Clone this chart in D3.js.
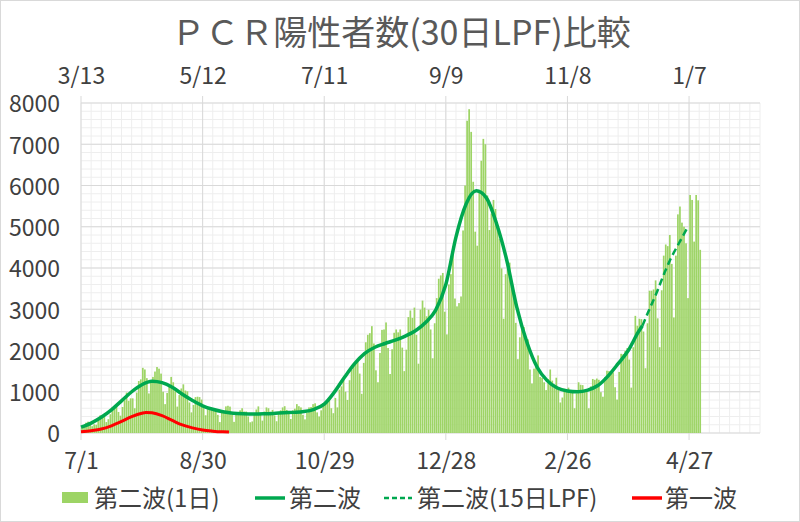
<!DOCTYPE html>
<html>
<head>
<meta charset="utf-8">
<script src="https://cdn.jsdelivr.net/npm/d3@7"></script>
<style>
  html, body { margin: 0; padding: 0; background: #fff; }
  svg { display: block; font-family: "Noto Sans CJK JP", "Noto Sans", sans-serif; }
</style>
</head>
<body>
<svg id="chart" width="800" height="522"></svg>
<script>
// ---------------- DATA ----------------
const titleText = "ＰＣＲ陽性者数(30日LPF)比較";
const bottomTickDays = [0, 60, 120, 180, 240, 300];
const bottomTickLabels = ["7/1", "8/30", "10/29", "12/28", "2/26", "4/27"];
const topTickLabels = ["3/13", "5/12", "7/11", "9/9", "11/8", "1/7"];
const yTicks = [0, 1000, 2000, 3000, 4000, 5000, 6000, 7000, 8000];
const legendLabels = ["第二波(1日)", "第二波", "第二波(15日LPF)", "第一波"];

// Second wave daily positives, day 0 = 7/1
const wave2Daily = [
  // Jul
  130,195,250,275,210,165,210,200,355,430,385,410,265,335,455,620,595,665,510,420,630,795,980,780,840,840,600,980,1260,1300,1580,
  // Aug
  1540,1330,960,1240,1360,1490,1600,1560,1440,1000,700,970,1180,1360,1230,1010,640,920,1080,1180,1030,1010,740,500,680,870,880,870,810,670,430,
  // Sep
  580,620,590,590,530,440,265,510,505,645,660,640,440,270,505,500,550,600,520,520,400,260,280,480,570,645,470,300,520,620,
  // Oct
  600,515,560,425,285,480,550,620,650,560,500,340,550,590,700,650,620,440,330,490,620,630,700,720,500,400,550,720,740,770,850,
  // Nov
  600,480,850,620,1050,1130,1330,1000,800,1280,1540,1660,1700,1730,1440,950,1700,2200,2380,2420,2590,2170,1520,1230,1940,2500,2510,2680,2060,1430,
  // Dec
  2030,2430,2510,2440,2510,2070,1500,2020,2810,2970,2790,3040,2380,1680,2990,3210,3040,2830,2990,2510,1810,2660,3270,3740,3820,3880,2940,2390,3600,3850,4520,
  // Jan
  3260,3070,3150,3310,4910,6000,7570,7850,7300,6090,4880,4540,5870,6600,7130,7000,5760,4920,5320,5650,5430,5040,4710,3990,2770,3850,3980,4130,3540,3340,2670,
  // Feb
  1790,2320,2630,2570,2290,2270,1540,1200,1560,1700,1880,1360,1340,1230,1040,1310,1540,1270,1170,1340,1050,740,860,1070,1060,1100,1000,980,
  // Mar
  600,960,1230,1170,1160,1030,1060,600,1130,1310,1290,1320,1290,990,880,1360,1510,1500,1460,1470,1110,810,1480,1920,1910,1990,2060,1780,1100,2080,2840,
  // Apr
  2600,2770,2760,2460,1570,2660,3450,3450,3480,3700,2780,2080,3460,4300,4570,4530,4800,4100,2800,4300,5300,5490,5100,5000,4600,3270,5770,5650,4640,5770,
  // May
  5640,4440
];

// Second wave 30-day LPF
const wave2LpfDays = [0,5,10,15,20,25,30,35,40,45,50,55,60,65,70,75,80,85,90,95,100,105,110,115,120,125,130,135,140,145,150,155,160,165,170,175,180,185,190,195,200,205,210,215,220,225,230,235,240,245,250,255,260,265,270,275,277];
const wave2Lpf = [140,240,380,560,780,1000,1170,1255,1220,1110,940,790,660,575,515,480,465,460,465,475,490,500,520,575,700,990,1350,1680,1930,2080,2170,2250,2350,2480,2680,2980,3600,4750,5550,5870,5700,5080,4200,3050,2200,1600,1270,1090,1020,1000,1040,1150,1380,1680,2000,2450,2600];

// Second wave 15-day LPF (dashed tail)
const wave2Lpf15Days = [277,280,284,288,291,295,299];
const wave2Lpf15 = [2600,2950,3400,3900,4230,4600,4960];

// First wave 30-day LPF, day 0 = 3/13 (top axis)
const wave1LpfDays = [0,5,10,15,20,25,30,32,35,40,45,50,55,60,65,70,73];
const wave1Lpf = [30,55,95,175,280,395,480,500,490,420,305,195,125,72,45,28,22];

// ---------------- CHART ----------------
const svg = d3.select("#chart");
const W = 800, H = 522;
const m = {left: 81, right: 40, top: 103, bottom: 89};
const x = d3.scaleLinear().domain([0, 335]).range([m.left, W - m.right]);
const y = d3.scaleLinear().domain([0, 8000]).range([H - m.bottom, m.top]);

const green = "#00a84f", barColor = "#9dd465", red = "#ff0000";
const textColor = "#404040";

svg.append("rect").attr("x", 0.5).attr("y", 0.5).attr("width", W - 1).attr("height", H - 1)
  .attr("fill", "#fff").attr("stroke", "#d9d9d9");

// title
svg.append("text").attr("x", 401).attr("y", 45).attr("text-anchor", "middle")
  .attr("font-size", 34).attr("fill", "#595959").text(titleText);

// grid
const g = svg.append("g");
const minorX = d3.range(0, 336, 5), minorY = d3.range(0, 8001, 200);
g.selectAll(".mx").data(minorX).join("line")
  .attr("x1", d => x(d)).attr("x2", d => x(d)).attr("y1", y(0)).attr("y2", y(8000))
  .attr("stroke", "#eeeeee").attr("stroke-width", 1);
g.selectAll(".my").data(minorY).join("line")
  .attr("x1", x(0)).attr("x2", x(335)).attr("y1", d => y(d)).attr("y2", d => y(d))
  .attr("stroke", "#eeeeee").attr("stroke-width", 1);
g.selectAll(".My").data(yTicks).join("line")
  .attr("x1", x(0)).attr("x2", x(335)).attr("y1", d => y(d)).attr("y2", d => y(d))
  .attr("stroke", "#d9d9d9").attr("stroke-width", 1);
g.selectAll(".Mx").data(bottomTickDays).join("line")
  .attr("x1", d => x(d)).attr("x2", d => x(d)).attr("y1", y(0) + 7).attr("y2", y(8000) - 7)
  .attr("stroke", "#d9d9d9").attr("stroke-width", 1);

// bars
const bw = (x(1) - x(0)) * 0.84;
svg.append("g").selectAll("rect").data(wave2Daily).join("rect")
  .attr("x", (d, i) => x(i + 0.5) - bw / 2)
  .attr("y", d => y(d))
  .attr("width", bw)
  .attr("height", d => y(0) - y(d))
  .attr("fill", barColor);

// lines
const line = d3.line().curve(d3.curveMonotoneX);
const pts = (days, vals) => days.map((d, i) => [x(d), y(vals[i])]);
svg.append("path").attr("d", line(pts(wave1LpfDays, wave1Lpf)))
  .attr("fill", "none").attr("stroke", red).attr("stroke-width", 3);
svg.append("path").attr("d", line(pts(wave2LpfDays, wave2Lpf)))
  .attr("fill", "none").attr("stroke", green).attr("stroke-width", 3.5);
svg.append("path").attr("d", line(pts(wave2Lpf15Days, wave2Lpf15)))
  .attr("fill", "none").attr("stroke", green).attr("stroke-width", 2.5).attr("stroke-dasharray", "7,4");

// axes
const fs = 23;
const bottomAxis = d3.axisBottom(x).tickValues(bottomTickDays).tickSize(0)
  .tickFormat((d, i) => bottomTickLabels[i]);
const ba = svg.append("g").attr("transform", `translate(0,${y(0)})`).call(bottomAxis);
ba.select(".domain").remove();
ba.selectAll("text").attr("font-size", fs).attr("fill", textColor)
  .attr("font-family", "Noto Sans CJK JP").attr("dy", null).attr("y", 36);

const topAxis = d3.axisTop(x).tickValues(bottomTickDays).tickSize(0)
  .tickFormat((d, i) => topTickLabels[i]);
const ta = svg.append("g").attr("transform", `translate(0,${y(8000)})`).call(topAxis);
ta.select(".domain").remove();
ta.selectAll("text").attr("font-size", fs).attr("fill", textColor)
  .attr("font-family", "Noto Sans CJK JP").attr("dy", null).attr("y", -19);

const leftAxis = d3.axisLeft(y).tickValues(yTicks).tickSize(0).tickFormat(d3.format("d"));
const la = svg.append("g").attr("transform", `translate(${m.left},0)`).call(leftAxis);
la.select(".domain").remove();
la.selectAll("text").attr("font-size", fs).attr("fill", textColor)
  .attr("font-family", "Noto Sans CJK JP").attr("x", -21).attr("dy", "0.38em");

// legend
const lg = svg.append("g").attr("font-size", 24).attr("fill", textColor);
const ly = 498;
lg.append("rect").attr("x", 62).attr("y", 492).attr("width", 26).attr("height", 11).attr("fill", barColor);
lg.append("text").attr("x", 94).attr("y", ly).attr("dy", "0.36em").text(legendLabels[0]);
lg.append("line").attr("x1", 255).attr("x2", 285).attr("y1", ly).attr("y2", ly)
  .attr("stroke", green).attr("stroke-width", 3.5);
lg.append("text").attr("x", 289).attr("y", ly).attr("dy", "0.36em").text(legendLabels[1]);
lg.append("line").attr("x1", 384).attr("x2", 412).attr("y1", ly).attr("y2", ly)
  .attr("stroke", green).attr("stroke-width", 2.5).attr("stroke-dasharray", "5,3");
lg.append("text").attr("x", 417).attr("y", ly).attr("dy", "0.36em").text(legendLabels[2]);
lg.append("line").attr("x1", 632).attr("x2", 662).attr("y1", ly).attr("y2", ly)
  .attr("stroke", red).attr("stroke-width", 3.5);
lg.append("text").attr("x", 665).attr("y", ly).attr("dy", "0.36em").text(legendLabels[3]);
</script>
</body>
</html>
